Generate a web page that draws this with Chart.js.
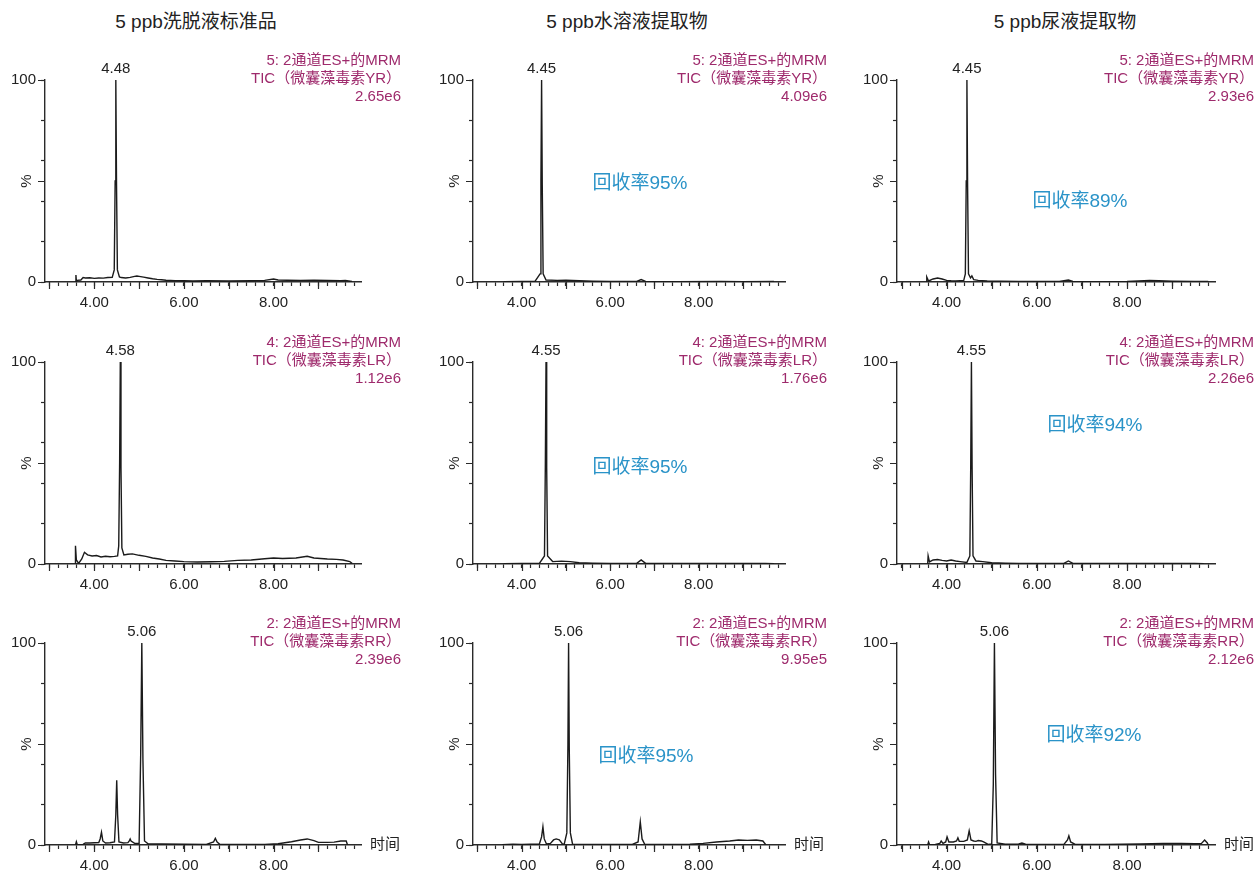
<!DOCTYPE html>
<html lang="zh">
<head>
    <meta charset="UTF-8">
    <title>微囊藻毒素 MRM 色谱图</title>
    <style>
        body {
            margin: 0;
            background: #fff;
            font-family: "Liberation Sans", Arial, "Noto Sans CJK SC", sans-serif;
            color: #222;
        }

        #page {
            position: relative;
            width: 1257px;
            height: 874px;
            overflow: hidden;
        }

        .colTitle {
            position: absolute;
            top: 11px;
            font-size: 19px;
            line-height: 22px;
            transform: translateX(-50%);
            white-space: nowrap;
        }

        .panel {
            position: absolute;
            width: 405px;
            height: 272px;
        }

        .channel {
            position: absolute;
            top: 15px;
            font-size: 15px;
            line-height: 18px;
            text-align: right;
            color: #9e2a6c;
            white-space: nowrap;
        }

        .recovery {
            position: absolute;
            font-size: 19px;
            color: #2a93c8;
            transform: translate(-50%, -50%);
            white-space: nowrap;
        }
    </style>
</head>
<body>
    <div id="page"></div>

    <script src="https://cdn.jsdelivr.net/npm/chart.js"></script>
    <script>
        // Labels
        const columnTitles = ['5 ppb洗脱液标准品', '5 ppb水溶液提取物', '5 ppb尿液提取物'];
        const channelNames = ['5: 2通道ES+的MRM', '4: 2通道ES+的MRM', '2: 2通道ES+的MRM'];
        const compoundNames = ['TIC（微囊藻毒素YR）', 'TIC（微囊藻毒素LR）', 'TIC（微囊藻毒素RR）'];
        const baseIntensity = [
            ['2.65e6', '4.09e6', '2.93e6'],
            ['1.12e6', '1.76e6', '2.26e6'],
            ['2.39e6', '9.95e5', '2.12e6']
        ];
        const peakTimes = [
            [4.48, 4.45, 4.45],
            [4.58, 4.55, 4.55],
            [5.06, 5.06, 5.06]
        ];
        const recoveryRates = [
            [null, 95, 89],
            [null, 95, 94],
            [null, 95, 92]
        ];

        // Axis ticks
        const xLabelTicks = [4, 6, 8];
        const xMajorTicks = [3, 4, 5, 6, 7, 8, 9];
        const yMajorTicks = [0, 50, 100];
        const xMinorTicks = [];
        for (let i = 30; i <= 98; i += 2) xMinorTicks.push(i / 10);

        // Traces: retention time (min) and relative intensity (%)
        const yrStdTime = [3.58, 3.59, 3.60, 3.62, 3.70, 3.75, 3.80, 3.90, 4.00, 4.10, 4.20, 4.30, 4.40, 4.445, 4.465, 4.48, 4.495, 4.515, 4.56, 4.60, 4.70, 4.80, 4.90, 4.95, 5.00, 5.10, 5.20, 5.30, 5.40, 5.50, 5.60, 5.80, 6.00, 6.20, 6.50, 7.00, 7.50, 7.80, 8.00, 8.10, 8.30, 8.60, 8.90, 9.20, 9.50, 9.60, 9.75];
        const yrStdPct = [0, 3.5, 0.5, 0.8, 1.0, 2.2, 2.0, 2.1, 1.8, 2.0, 1.9, 2.2, 2.3, 6, 50, 100, 50, 6, 2.5, 2.2, 2.0, 2.3, 2.8, 3.0, 2.8, 2.4, 2.0, 1.6, 1.3, 1.1, 0.9, 0.7, 0.6, 0.5, 0.6, 0.5, 0.6, 0.8, 1.5, 1.0, 0.9, 0.8, 0.9, 0.8, 0.7, 0.8, 0.3];
        const yrWaterTime = [3.60, 4.00, 4.30, 4.415, 4.435, 4.45, 4.465, 4.485, 4.55, 4.80, 5.00, 5.30, 5.60, 6.00, 6.60, 6.70, 6.80, 7.50, 8.50, 9.00, 9.70];
        const yrWaterPct = [0.2, 0.3, 0.3, 4, 50, 100, 48, 4, 1.0, 0.8, 0.9, 0.6, 0.4, 0.3, 0.3, 1.2, 0.3, 0.2, 0.3, 0.2, 0.3];
        const yrUrineTime = [3.55, 3.56, 3.60, 3.70, 3.80, 3.90, 4.00, 4.10, 4.20, 4.30, 4.38, 4.415, 4.435, 4.45, 4.465, 4.485, 4.53, 4.56, 4.60, 4.70, 4.90, 5.20, 5.60, 6.00, 6.50, 6.70, 6.80, 7.20, 8.00, 8.50, 8.70, 9.00, 9.50, 9.80];
        const yrUrinePct = [0, 2.5, 0.5, 1.5, 2.0, 1.5, 0.8, 0.6, 0.5, 0.7, 0.8, 4, 50, 100, 48, 4, 2.0, 3.0, 1.2, 0.8, 0.5, 0.4, 0.3, 0.3, 0.3, 1.0, 0.3, 0.2, 0.3, 0.8, 0.6, 0.4, 0.3, 0.3];

        const lrStdTime = [3.57, 3.58, 3.60, 3.65, 3.72, 3.78, 3.85, 3.95, 4.05, 4.15, 4.25, 4.35, 4.45, 4.52, 4.545, 4.565, 4.58, 4.595, 4.615, 4.66, 4.75, 4.85, 5.00, 5.15, 5.30, 5.45, 5.60, 5.80, 6.00, 6.30, 6.60, 6.90, 7.20, 7.50, 7.80, 8.00, 8.20, 8.50, 8.75, 8.90, 9.20, 9.40, 9.55, 9.70, 9.75];
        const lrStdPct = [0, 9, 2, 0.3, 2.5, 5.8, 4.5, 4.0, 4.2, 3.5, 3.8, 3.6, 3.8, 4.0, 9, 50, 100, 48, 8, 4.5, 4.8, 5.0, 4.3, 3.8, 3.0, 2.5, 1.8, 1.5, 1.2, 1.0, 1.1, 1.3, 1.8, 2.0, 2.6, 3.0, 2.7, 3.0, 3.8, 3.0, 2.5, 2.3, 2.0, 1.2, 0.3];
        const lrWaterTime = [3.60, 4.00, 4.40, 4.515, 4.535, 4.55, 4.565, 4.585, 4.70, 4.90, 5.10, 5.30, 5.60, 6.00, 6.60, 6.70, 6.80, 7.50, 8.50, 9.50, 9.70];
        const lrWaterPct = [0.2, 0.3, 0.3, 4, 50, 100, 48, 4, 1.2, 1.4, 1.2, 0.6, 0.4, 0.3, 0.3, 2.0, 0.3, 0.3, 0.3, 0.3, 0.2];
        const lrUrineTime = [3.58, 3.59, 3.62, 3.70, 3.80, 3.90, 4.00, 4.10, 4.20, 4.30, 4.45, 4.515, 4.535, 4.55, 4.565, 4.585, 4.65, 4.80, 5.00, 5.30, 5.60, 6.00, 6.60, 6.70, 6.80, 7.50, 8.50, 9.50, 9.70];
        const lrUrinePct = [0, 4, 1.0, 2.0, 2.2, 1.8, 1.5, 2.0, 1.5, 1.2, 0.8, 4, 50, 100, 48, 4, 1.5, 1.2, 0.6, 0.4, 0.3, 0.3, 0.3, 1.5, 0.3, 0.3, 0.3, 0.3, 0.2];

        const rrStdTime = [3.58, 3.60, 3.62, 3.75, 3.80, 3.90, 4.00, 4.10, 4.13, 4.16, 4.19, 4.25, 4.35, 4.45, 4.48, 4.50, 4.52, 4.55, 4.65, 4.75, 4.78, 4.80, 4.82, 4.90, 5.00, 5.035, 5.06, 5.085, 5.12, 5.20, 5.50, 6.00, 6.50, 6.66, 6.70, 6.74, 6.80, 7.20, 7.80, 8.10, 8.40, 8.60, 8.75, 8.90, 9.00, 9.20, 9.35, 9.50, 9.62, 9.65];
        const rrStdPct = [0, 1.6, 0.2, 0.3, 1.0, 1.0, 1.1, 1.2, 3, 6.3, 2, 1.0, 1.1, 1.5, 15, 32, 15, 1.5, 1.0, 1.2, 2, 3, 2, 0.8, 0.8, 45, 100, 42, 2, 0.6, 0.5, 0.4, 0.3, 1.5, 3.3, 1.5, 0.4, 0.3, 0.3, 0.6, 1.6, 2.5, 3.0, 2.2, 1.3, 1.3, 1.4, 2.0, 2.0, 0];
        const rrWaterTime = [3.56, 3.80, 4.00, 4.20, 4.40, 4.45, 4.48, 4.51, 4.56, 4.65, 4.72, 4.78, 4.85, 4.92, 4.96, 5.02, 5.045, 5.06, 5.075, 5.10, 5.15, 5.50, 6.00, 6.50, 6.63, 6.68, 6.72, 6.78, 7.20, 7.80, 8.10, 8.40, 8.70, 8.90, 9.10, 9.30, 9.45, 9.52];
        const rrWaterPct = [0.2, 0.4, 0.3, 0.4, 0.5, 4, 9, 3, 0.5, 0.8, 2.5, 3.0, 2.6, 0.5, 0.3, 6, 50, 100, 48, 6, 0.4, 0.3, 0.3, 0.3, 1.5, 11.5, 3, 0.4, 0.3, 0.4, 0.8, 1.5, 2.0, 2.5, 2.3, 2.5, 2.0, 0];
        const rrUrineTime = [3.58, 3.60, 3.62, 3.75, 3.85, 3.88, 3.92, 3.98, 4.01, 4.05, 4.15, 4.22, 4.25, 4.28, 4.38, 4.46, 4.50, 4.54, 4.60, 4.65, 4.70, 4.77, 4.82, 4.92, 5.00, 5.035, 5.06, 5.085, 5.12, 5.30, 5.60, 5.67, 5.75, 6.20, 6.60, 6.68, 6.71, 6.75, 6.85, 7.50, 8.30, 8.80, 9.20, 9.50, 9.65, 9.72, 9.78, 9.80];
        const rrUrinePct = [0, 1.5, 0.2, 0.3, 0.8, 2.0, 0.8, 1.5, 4.0, 1.5, 1.5, 2.0, 3.5, 1.8, 1.8, 2.5, 7.0, 2.5, 2.0, 1.8, 2.2, 2.0, 1.5, 0.3, 0.5, 30, 100, 35, 1.0, 0.4, 0.5, 1.0, 0.4, 0.3, 0.3, 2.5, 4.5, 1.5, 0.3, 0.3, 0.5, 0.8, 0.8, 0.7, 0.8, 2.5, 1.0, 0];

        const traces = [
            [[yrStdTime, yrStdPct], [yrWaterTime, yrWaterPct], [yrUrineTime, yrUrinePct]],
            [[lrStdTime, lrStdPct], [lrWaterTime, lrWaterPct], [lrUrineTime, lrUrinePct]],
            [[rrStdTime, rrStdPct], [rrWaterTime, rrWaterPct], [rrUrineTime, rrUrinePct]]
        ];

        // Layout on the page
        const colLeft = [0, 428, 852];
        const colRightPad = [44, 48, 42];
        const colTitleX = [196, 627, 1065];
        const channelRight = [4, 6, 3];
        const rowTop = [36, 318, 599];
        const recoveryPos = [
            [null, [640, 180], [1080, 198]],
            [null, [640, 464], [1095, 422]],
            [null, [646, 753], [1094, 732]]
        ];

        const axisColor = '#2a2a2a';
        Chart.defaults.font.family = '"Liberation Sans", Arial, "Noto Sans CJK SC", sans-serif';
        Chart.defaults.font.size = 15;
        Chart.defaults.color = '#222';

        // Longer major ticks, peak label, "%" and "时间"
        const decor = {
            id: 'decor',
            afterDraw(chart, args, opts) {
                const { ctx, chartArea: a, scales: { x, y } } = chart;
                ctx.save();
                ctx.strokeStyle = axisColor;
                ctx.lineWidth = 1.2;
                ctx.beginPath();
                xMajorTicks.forEach(v => {
                    const px = Math.round(x.getPixelForValue(v)) + 0.5;
                    ctx.moveTo(px, a.bottom);
                    ctx.lineTo(px, a.bottom + 7);
                });
                yMajorTicks.forEach(v => {
                    const py = Math.round(y.getPixelForValue(v)) + 0.5;
                    ctx.moveTo(a.left - 7, py);
                    ctx.lineTo(a.left, py);
                });
                ctx.stroke();

                ctx.fillStyle = '#222';
                ctx.font = '15px ' + Chart.defaults.font.family;
                ctx.textAlign = 'center';
                ctx.textBaseline = 'middle';
                ctx.fillText(opts.peak.toFixed(2), x.getPixelForValue(opts.peak), a.top - 11);

                ctx.save();
                ctx.translate(a.left - 18, y.getPixelForValue(50));
                ctx.rotate(-Math.PI / 2);
                ctx.fillText('%', 0, 0);
                ctx.restore();

                if (opts.timeLabel) {
                    ctx.textAlign = 'left';
                    ctx.fillText('时间', a.right + 9, a.bottom);
                }
                ctx.restore();
            }
        };

        const page = document.getElementById('page');

        columnTitles.forEach((t, c) => {
            const el = document.createElement('div');
            el.className = 'colTitle';
            el.style.left = colTitleX[c] + 'px';
            el.textContent = t;
            page.appendChild(el);
        });

        for (let r = 0; r < 3; r++) {
            for (let c = 0; c < 3; c++) {
                const panel = document.createElement('div');
                panel.className = 'panel';
                panel.style.left = colLeft[c] + 'px';
                panel.style.top = rowTop[r] + 'px';

                const canvas = document.createElement('canvas');
                canvas.width = 405;
                canvas.height = 272;
                panel.appendChild(canvas);

                const info = document.createElement('div');
                info.className = 'channel';
                info.style.right = channelRight[c] + 'px';
                info.innerHTML = channelNames[r] + '<br>' + compoundNames[r] + '<br>' + baseIntensity[r][c];
                panel.appendChild(info);
                page.appendChild(panel);

                if (recoveryRates[r][c] !== null) {
                    const rec = document.createElement('div');
                    rec.className = 'recovery';
                    rec.style.left = recoveryPos[r][c][0] + 'px';
                    rec.style.top = recoveryPos[r][c][1] + 'px';
                    rec.textContent = '回收率' + recoveryRates[r][c] + '%';
                    page.appendChild(rec);
                }

                const [times, pcts] = traces[r][c];
                const points = times.map((t, i) => ({ x: t, y: pcts[i] }));

                new Chart(canvas, {
                    type: 'line',
                    data: {
                        datasets: [{
                            data: points,
                            borderColor: '#1b1b1b',
                            borderWidth: 1.4,
                            pointRadius: 0,
                            tension: 0,
                            fill: false
                        }]
                    },
                    options: {
                        responsive: false,
                        animation: false,
                        devicePixelRatio: 1,
                        layout: { padding: { top: 44, right: colRightPad[c], left: 0, bottom: 0 } },
                        plugins: {
                            legend: { display: false },
                            tooltip: { enabled: false },
                            decor: { peak: peakTimes[r][c], timeLabel: r === 2 }
                        },
                        scales: {
                            x: {
                                type: 'linear',
                                min: 2.9,
                                max: 9.95,
                                afterBuildTicks: s => { s.ticks = xMinorTicks.map(v => ({ value: v })); },
                                afterFit: s => { s.height = 26; },
                                border: { display: true, color: axisColor, width: 1.4 },
                                grid: { drawOnChartArea: false, tickLength: 4, tickColor: axisColor, tickWidth: 1.2 },
                                ticks: {
                                    autoSkip: false,
                                    maxRotation: 0,
                                    padding: 8,
                                    callback: v => xLabelTicks.some(t => Math.abs(t - v) < 1e-6) ? v.toFixed(2) : ''
                                }
                            },
                            y: {
                                min: 0,
                                max: 100,
                                afterFit: s => { s.width = 45; },
                                border: { display: true, color: axisColor, width: 1.4 },
                                grid: { drawOnChartArea: false, tickLength: 4, tickColor: axisColor, tickWidth: 1.2 },
                                ticks: {
                                    stepSize: 10,
                                    padding: 5,
                                    callback: v => (v === 0 || v === 100) ? String(v) : ''
                                }
                            }
                        }
                    },
                    plugins: [decor]
                });
            }
        }
    </script>
</body>
</html>
